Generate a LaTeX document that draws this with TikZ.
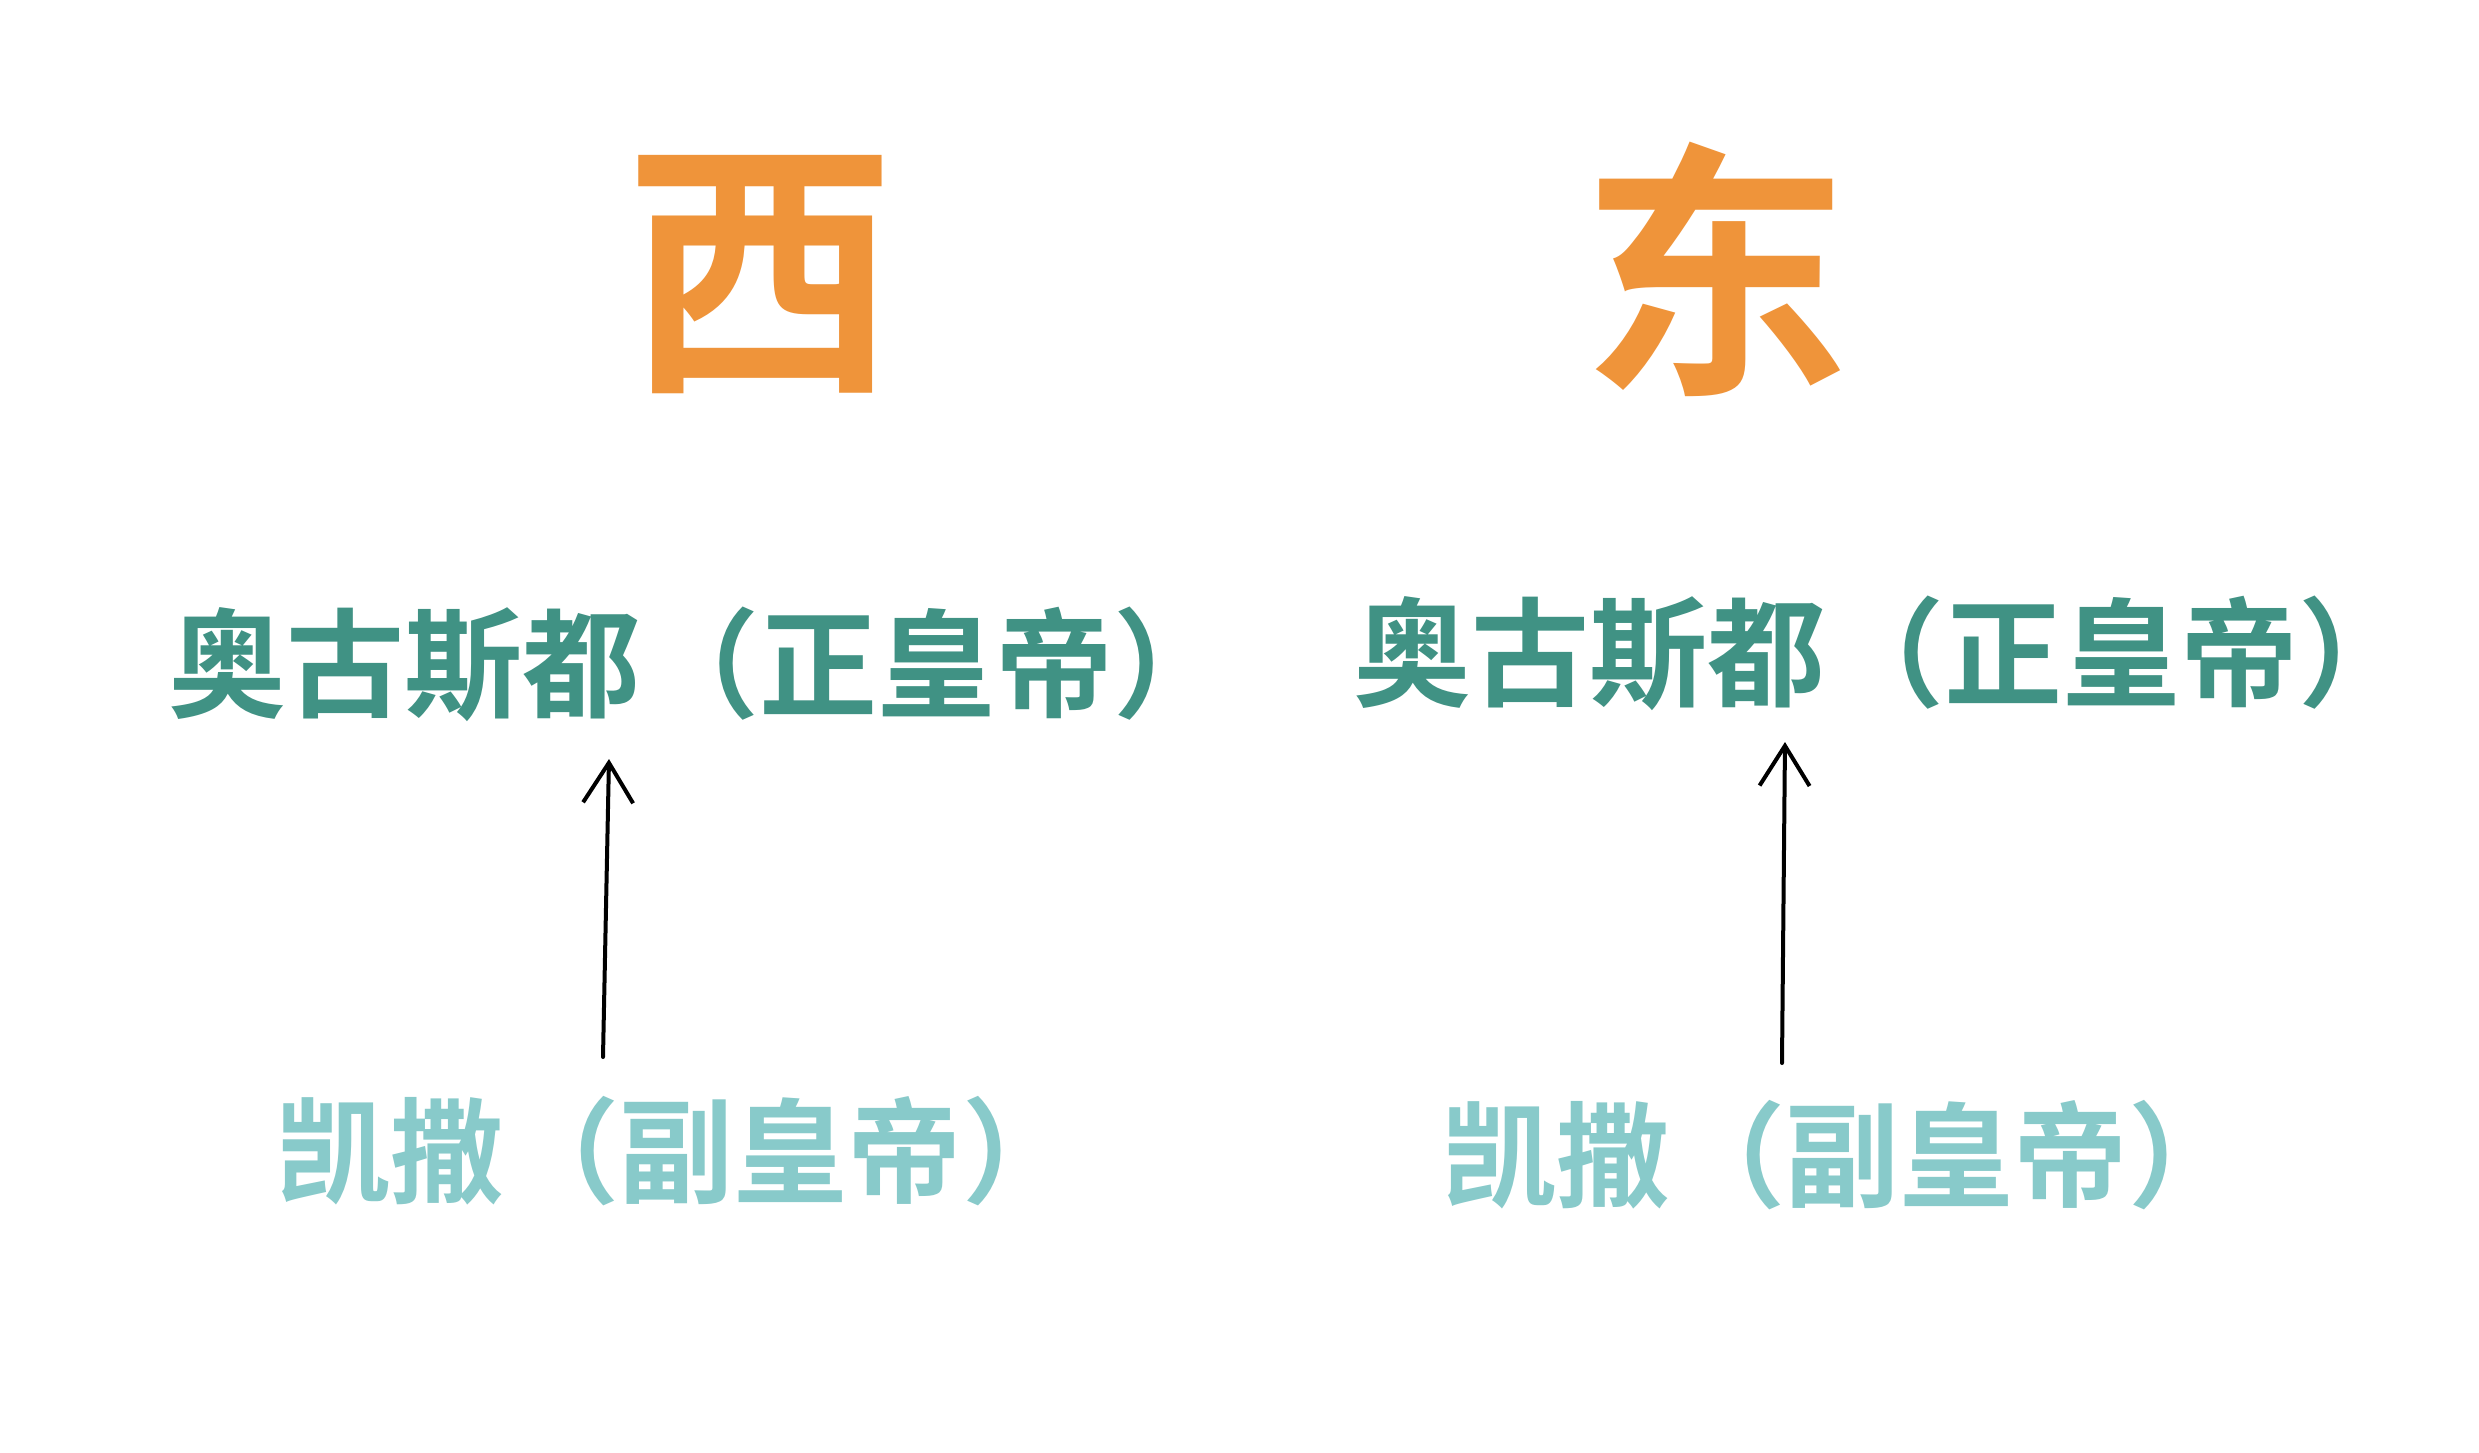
\documentclass[tikz,border=0pt]{standalone}
\usepackage{fontspec}
\newfontfamily\cjk{Noto Sans CJK SC Bold}
\usetikzlibrary{arrows.meta}
\definecolor{westorange}{RGB}{239,148,58}
\definecolor{augustgreen}{RGB}{64,146,132}
\definecolor{caesarteal}{RGB}{136,202,202}

\begin{document}
\begin{tikzpicture}
    [
        x=0.1mm, y=-0.1mm,
        side_node/.style={inner sep=0pt, text=westorange, font=\cjk\fontsize{77pt}{80pt}\selectfont},
        august_node/.style={inner sep=0pt, anchor=west, text=augustgreen, font=\cjk\fontsize{33.6pt}{36pt}\selectfont},
        caesar_node/.style={inner sep=0pt, anchor=west, text=caesarteal, font=\cjk\fontsize{32.5pt}{34pt}\selectfont},
        hand_arrow/.style={-{Straight Barb[length=4mm, width=5mm, line width=0.4mm]}, line width=0.4mm, line cap=round, color=black},
    ]
        \useasboundingbox[fill=white] (0,0) rectangle (2479,1453);
        \node[side_node] (west) at (761,275) {西} ;
        \node[side_node] (east) at (1716,269) {东} ;
        \node[august_node] (augustW) at (168,664) {奥古斯都（正皇帝）} ;
        \node[august_node] (augustE) at (1353,653) {奥古斯都（正皇帝）} ;
        \node[caesar_node] (caesarW) at (276,1151) {凯撒（副皇帝）} ;
        \node[caesar_node] (caesarE) at (1442,1155) {凯撒（副皇帝）} ;
        \coordinate (tailW) at (603,1057) ;
        \coordinate (headW) at (609,759) ;
        \coordinate (tailE) at (1782,1063) ;
        \coordinate (headE) at (1785,742) ;
        \draw[hand_arrow] (tailW) -- (headW) ;
        \draw[hand_arrow] (tailE) -- (headE) ;
    \end{tikzpicture}
\end{document}
